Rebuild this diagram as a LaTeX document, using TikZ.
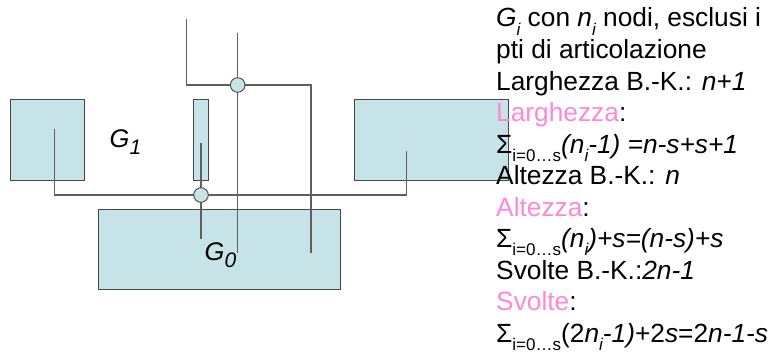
\documentclass[tikz,border=0pt]{standalone}
\usepackage{fontspec}
\setmainfont{Liberation Sans}
\definecolor{blockfill}{RGB}{198,228,232}
\definecolor{edgegrey}{RGB}{70,70,70}
\definecolor{wiregrey}{RGB}{95,95,95}
\definecolor{hilite}{RGB}{255,136,214}
% lowered small subscript, as in the slide text
\newcommand{\lowsub}[1]{\raisebox{-0.32em}{\fontsize{17}{17}\selectfont #1}}
% larger subscript for the component names
\newcommand{\gsub}[1]{\raisebox{-7pt}{\fontsize{21}{21}\selectfont #1}}
\newcommand{\sumidx}{\textup{\char"03A3}\lowsub{\textup{i=0…s}}}
\begin{document}
\begin{tikzpicture}[x=1pt,y=-1pt,
  block/.style={draw=edgegrey,fill=blockfill,line width=0.9pt},
  wire/.style={draw=wiregrey,line width=1.1pt},
  joint/.style={circle,draw=edgegrey,fill=blockfill,line width=0.9pt,minimum size=14.6pt,inner sep=0pt},
  txt/.style={anchor=base west,inner sep=0pt,font=\fontsize{26.3}{30}\selectfont},
  glabel/.style={inner sep=0pt,font=\fontsize{25.5}{30}\selectfont\itshape}]
\useasboundingbox (0,0) rectangle (778,353);

% blocks
\draw[block] (10.7,99.5) rectangle (84,180.3);
\node[inner sep=0pt] (lbox) at (47.3,140) {};
\draw[block] (193.7,99.5) rectangle (208.7,180.3);
\node[inner sep=0pt] (tbox) at (201,140) {};
\draw[block] (354.3,99.5) rectangle (508.7,180);
\node[inner sep=0pt] (rbox) at (431.5,140) {};
\draw[block] (98.3,209.3) rectangle (340.3,289.7);
\node[inner sep=0pt] (bbox) at (219.3,249.5) {};

% articulation points and wire end points
\coordinate (c1) at (237.7,85);
\coordinate (c2) at (201,195);
\coordinate (w1a) at (186.3,19);
\coordinate (w1b) at (186.3,85);
\coordinate (w1c) at (311,85);
\coordinate (w1d) at (311,253.3);
\coordinate (w2a) at (237.7,33.3);
\coordinate (w2b) at (237.7,253.3);
\coordinate (w3a) at (54.7,129);
\coordinate (w3b) at (54.7,195);
\coordinate (w3c) at (406.3,195);
\coordinate (w3d) at (406.3,151);
\coordinate (w4a) at (201,143.3);
\coordinate (w4b) at (201,238.7);

% wires
\draw[wire] (w1a) -- (w1b) -- (c1) -- (w1c) -- (w1d);
\draw[wire] (w2a) -- (c1) -- (w2b);
\draw[wire] (w3a) -- (w3b) -- (c2) -- (w3c) -- (w3d);
\draw[wire] (w4a) -- (c2) -- (w4b);

\node[joint] (j1) at (c1) {};
\node[joint] (j2) at (c2) {};

% component labels
\node[glabel,anchor=base west] (g1) at (109.5,147) {G\gsub{1}};
\node[glabel,anchor=base west] (g0) at (204.5,260) {G\gsub{0}};

% explanation text
\node[txt] (t1) at (496,27) {\textit{G\lowsub{i}} con \textit{n\lowsub{i}} nodi, esclusi i};
\node[txt] (t2) at (496,58.5) {pti di articolazione};
\node[txt] (t3) at (496,90) {Larghezza B.-K.: \textit{n+1}};
\node[txt] (t4) at (496,121.5) {\textcolor{hilite}{Larghezza}:};
\node[txt] (t5) at (496,153) {\sumidx\textit{(n\lowsub{i}-1) =n-s+s+1}};
\node[txt] (t6) at (496,184.5) {Altezza B.-K.: \textit{n}};
\node[txt] (t7) at (496,216) {\textcolor{hilite}{Altezza}:};
\node[txt] (t8) at (496,247.5) {\sumidx\textit{(n\lowsub{i})+s=(n-s)+s}};
\node[txt] (t9) at (496,279) {Svolte B.-K.:\textit{2n-1}};
\node[txt] (t10) at (496,310.5) {\textcolor{hilite}{Svolte}:};
\node[txt] (t11) at (496,342) {\sumidx(2\textit{n\lowsub{i}-1)}+2\textit{s}=2\textit{n-1-s}};
\end{tikzpicture}
\end{document}
